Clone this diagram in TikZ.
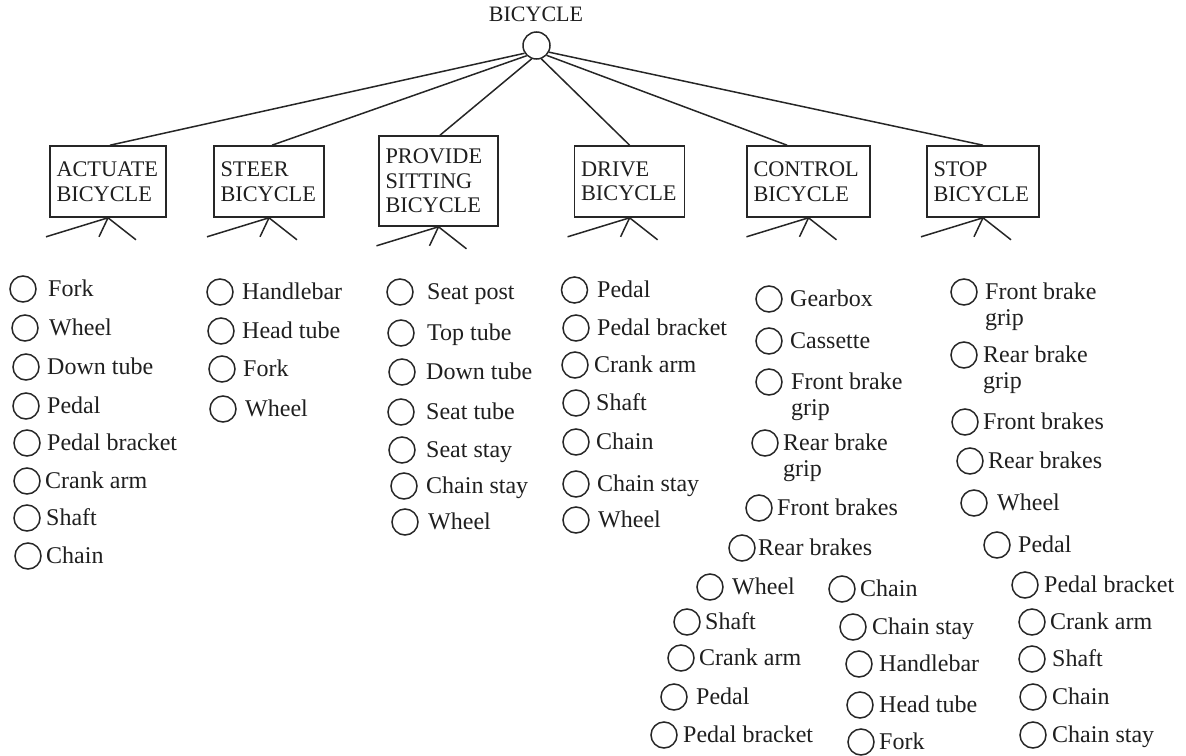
\documentclass[tikz,border=0pt]{standalone}
\usepackage{fontspec}
\setmainfont{Liberation Serif}
\tikzset{
  ln/.style={line width=1.5pt, draw=black!85},
  circ/.style={circle, draw=black!85, line width=1.5pt, minimum size=26pt, inner sep=0pt},
  lbl/.style={inner sep=0pt, anchor=base west, font=\fontsize{24}{26}\selectfont, text=black!88},
  box/.style={draw=black!85, line width=1.6pt, inner xsep=6.5pt, inner ysep=0pt, align=left,
    minimum height=71pt, font=\fontsize{22.3}{24.5}\selectfont, text=black!88},
}
\newcommand\itm[5]{\node[circ] (#1) at (#2,#3) {}; \node[lbl] (#1t) at (#4,#3+7) {#5};}
\newcommand\itmm[6]{\node[circ] (#1) at (#2,#3) {}; \node[lbl] (#1t) at (#4,#3+7) {#5};
  \node[lbl] (#1u) at (#4,#3+33) {#6};}
\newcommand\stubs[1]{\draw[ln] (#1.south) -- ++(-62,19); \draw[ln] (#1.south) -- ++(-9,19);
  \draw[ln] (#1.south) -- ++(28,22);}
\begin{document}
\begin{tikzpicture}[x=1pt,y=-1pt]
\useasboundingbox (0,0) rectangle (1186,755);
% root
\node[inner sep=0pt, anchor=base, font=\fontsize{22}{24}\selectfont, text=black!88] (tt) at (536,21) {BICYCLE};
\node[circ, minimum size=27pt] (top) at (536.5,45.5) {};
% function boxes
\node[box, text width=103pt] (b1) at (108,181.5) {ACTUATE\\BICYCLE};
\node[box, text width=97pt] (b2) at (269,181.5) {STEER\\BICYCLE};
\node[box, text width=106pt, minimum height=90pt] (b3) at (438.5,181) {PROVIDE\\SITTING\\BICYCLE};
\node[box, text width=97pt] (b4) at (629.6,181.5) {DRIVE\\BICYCLE};
\node[box, text width=110pt] (b5) at (808.5,181.5) {CONTROL\\BICYCLE};
\node[box, text width=99pt] (b6) at (983,181.5) {STOP\\BICYCLE};
% connectors
\draw[ln] (top.213) -- ([xshift=2pt]b1.north);
\draw[ln] (top.226) -- ([xshift=3pt]b2.north);
\draw[ln] (top.250) -- ([xshift=1.5pt]b3.north);
\draw[ln] (top.290) -- (b4.north);
\draw[ln] (top.316) -- ([xshift=-21.5pt]b5.north);
\draw[ln] (top.332) -- (b6.north);
\stubs{b1}\stubs{b2}\stubs{b3}\stubs{b4}\stubs{b5}\stubs{b6}
% ACTUATE
\itm{a1}{23}{289}{48}{Fork}
\itm{a2}{25}{328}{49}{Wheel}
\itm{a3}{26}{367}{47}{Down tube}
\itm{a4}{26}{406}{47}{Pedal}
\itm{a5}{27}{443}{47}{Pedal bracket}
\itm{a6}{27}{481}{45}{Crank arm}
\itm{a7}{27}{518}{46}{Shaft}
\itm{a8}{28}{556}{46}{Chain}
% STEER
\itm{s1}{220}{292}{242}{Handlebar}
\itm{s2}{221}{331}{242}{Head tube}
\itm{s3}{222}{369}{243}{Fork}
\itm{s4}{223}{409}{245}{Wheel}
% PROVIDE SITTING
\itm{p1}{400}{292}{427}{Seat post}
\itm{p2}{401}{333}{427}{Top tube}
\itm{p3}{402}{372}{426}{Down tube}
\itm{p4}{401}{412}{426}{Seat tube}
\itm{p5}{402}{450}{426}{Seat stay}
\itm{p6}{404}{486}{426}{Chain stay}
\itm{p7}{405}{522}{428}{Wheel}
% DRIVE
\itm{d1}{574.5}{290}{597}{Pedal}
\itm{d2}{576}{328}{597}{Pedal bracket}
\itm{d3}{575}{365}{594}{Crank arm}
\itm{d4}{576}{403}{596}{Shaft}
\itm{d5}{576}{442}{596}{Chain}
\itm{d6}{576}{484}{597}{Chain stay}
\itm{d7}{576}{520}{598}{Wheel}
% CONTROL
\itm{c1}{769}{299}{790}{Gearbox}
\itm{c2}{769}{341}{790}{Cassette}
\itmm{c3}{769}{382}{791}{Front brake}{grip}
\itmm{c4}{765}{443}{783}{Rear brake}{grip}
\itm{c5}{759}{508}{777}{Front brakes}
\itm{c6}{742}{548}{758}{Rear brakes}
\itm{c7}{710}{587}{732}{Wheel}
\itm{c8}{687}{622}{705}{Shaft}
\itm{c9}{681}{658}{699}{Crank arm}
\itm{c10}{674}{697}{696}{Pedal}
\itm{c11}{664}{735}{683}{Pedal bracket}
\itm{c12}{842}{589}{860}{Chain}
\itm{c13}{853}{627}{872}{Chain stay}
\itm{c14}{859}{664}{879}{Handlebar}
\itm{c15}{860}{705}{879}{Head tube}
\itm{c16}{861}{742}{879}{Fork}
% STOP
\itmm{t1}{964}{292}{985}{Front brake}{grip}
\itmm{t2}{964}{355}{983}{Rear brake}{grip}
\itm{t3}{965}{422}{983}{Front brakes}
\itm{t4}{970}{461}{988}{Rear brakes}
\itm{t5}{974}{503}{997}{Wheel}
\itm{t6}{997}{545}{1018}{Pedal}
\itm{t7}{1025}{585}{1044}{Pedal bracket}
\itm{t8}{1032}{622}{1050}{Crank arm}
\itm{t9}{1032}{659}{1052}{Shaft}
\itm{t10}{1033}{697}{1052}{Chain}
\itm{t11}{1033}{735}{1052}{Chain stay}
\end{tikzpicture}
\end{document}
